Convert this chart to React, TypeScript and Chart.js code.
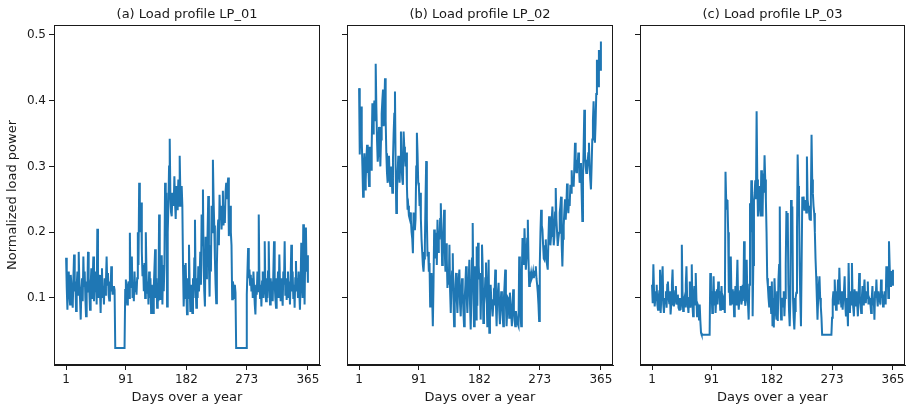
import React, { useEffect, useRef } from "react";
import { Chart, registerables } from "chart.js";

Chart.register(...registerables);

// ---- data (normalized load power per day, days 1..365) ----
const LP_01: number[] = [
  0.161, 0.115, 0.082, 0.128, 0.14, 0.105, 0.09, 0.135, 0.12, 0.1,
  0.085, 0.13, 0.166, 0.11, 0.125, 0.08, 0.118, 0.14, 0.105, 0.17,
  0.12, 0.098, 0.067, 0.112, 0.13, 0.095, 0.163, 0.118, 0.14, 0.1,
  0.072, 0.125, 0.108, 0.17, 0.13, 0.11, 0.082, 0.12, 0.145, 0.1,
  0.125, 0.163, 0.095, 0.13, 0.11, 0.14, 0.09, 0.205, 0.12, 0.1,
  0.135, 0.11, 0.077, 0.128, 0.145, 0.1, 0.118, 0.09, 0.13, 0.105,
  0.125, 0.163, 0.12, 0.138, 0.105, 0.096, 0.125, 0.11, 0.148, 0.12,
  0.105, 0.115, 0.118, 0.112, 0.024, 0.024, 0.024, 0.024, 0.024, 0.024,
  0.024, 0.024, 0.024, 0.024, 0.024, 0.024, 0.024, 0.024, 0.024, 0.112,
  0.128, 0.105, 0.09, 0.118, 0.125, 0.1, 0.199, 0.115, 0.135, 0.163,
  0.1, 0.12, 0.095, 0.14, 0.11, 0.125, 0.105, 0.13, 0.2, 0.15,
  0.275, 0.245, 0.2, 0.245, 0.17, 0.133, 0.15, 0.11, 0.153, 0.1,
  0.2, 0.14, 0.108, 0.125, 0.09, 0.14, 0.1, 0.13, 0.077, 0.12,
  0.095, 0.077, 0.115, 0.145, 0.174, 0.1, 0.13, 0.085, 0.115, 0.095,
  0.227, 0.13, 0.097, 0.12, 0.165, 0.09, 0.15, 0.11, 0.15, 0.275,
  0.22, 0.26, 0.087, 0.2, 0.24, 0.3, 0.342, 0.255, 0.23, 0.224,
  0.26, 0.25, 0.24, 0.285, 0.245, 0.22, 0.27, 0.235, 0.25, 0.28,
  0.24, 0.316, 0.26, 0.24, 0.27, 0.24, 0.15, 0.087, 0.12, 0.1,
  0.153, 0.11, 0.075, 0.13, 0.1, 0.181, 0.12, 0.08, 0.11, 0.12,
  0.077, 0.13, 0.1, 0.16, 0.219, 0.12, 0.085, 0.13, 0.1, 0.148,
  0.11, 0.133, 0.17, 0.12, 0.227, 0.18, 0.265, 0.15, 0.11, 0.087,
  0.193, 0.13, 0.16, 0.2, 0.255, 0.15, 0.102, 0.18, 0.14, 0.24,
  0.2, 0.31, 0.25, 0.21, 0.16, 0.12, 0.092, 0.15, 0.2, 0.219,
  0.18, 0.257, 0.22, 0.24, 0.204, 0.23, 0.263, 0.21, 0.24, 0.214,
  0.26, 0.275, 0.25, 0.27, 0.283, 0.194, 0.23, 0.24, 0.2, 0.18,
  0.098, 0.125, 0.118, 0.1, 0.12, 0.108, 0.024, 0.024, 0.024, 0.024,
  0.024, 0.024, 0.024, 0.024, 0.024, 0.024, 0.024, 0.024, 0.024, 0.024,
  0.024, 0.024, 0.105, 0.14, 0.176, 0.13, 0.143, 0.12, 0.135, 0.11,
  0.13, 0.1, 0.14, 0.115, 0.09, 0.075, 0.12, 0.105, 0.14, 0.11,
  0.227, 0.13, 0.1, 0.12, 0.087, 0.125, 0.14, 0.1, 0.13, 0.186,
  0.11, 0.095, 0.13, 0.1, 0.14, 0.186, 0.12, 0.09, 0.13, 0.105,
  0.125, 0.095, 0.14, 0.186, 0.12, 0.1, 0.085, 0.13, 0.11, 0.14,
  0.1, 0.166, 0.12, 0.095, 0.13, 0.11, 0.088, 0.14, 0.12, 0.186,
  0.105, 0.13, 0.097, 0.12, 0.14, 0.1, 0.125, 0.09, 0.13, 0.181,
  0.11, 0.14, 0.1, 0.12, 0.085, 0.13, 0.156, 0.11, 0.13, 0.1,
  0.14, 0.11, 0.082, 0.12, 0.184, 0.13, 0.1, 0.212, 0.15, 0.09,
  0.17, 0.207, 0.14, 0.165, 0.123,
];

const LP_02: number[] = [
  0.419, 0.318, 0.36, 0.391, 0.34, 0.3, 0.254, 0.29, 0.32, 0.265,
  0.28, 0.31, 0.333, 0.29, 0.3, 0.27, 0.33, 0.31, 0.295, 0.33,
  0.396, 0.35, 0.381, 0.4, 0.37, 0.456, 0.39, 0.34, 0.307, 0.32,
  0.36, 0.346, 0.3, 0.341, 0.38, 0.4, 0.417, 0.361, 0.39, 0.434,
  0.37, 0.32, 0.29, 0.275, 0.3, 0.316, 0.28, 0.27, 0.3, 0.285,
  0.26, 0.311, 0.35, 0.38, 0.414, 0.3, 0.229, 0.26, 0.29, 0.316,
  0.3, 0.275, 0.31, 0.353, 0.3, 0.28, 0.272, 0.353, 0.33, 0.316,
  0.3, 0.321, 0.27, 0.234, 0.24, 0.225, 0.221, 0.23, 0.218, 0.2,
  0.19, 0.168, 0.23, 0.21, 0.203, 0.22, 0.3, 0.351, 0.32, 0.275,
  0.27, 0.24, 0.26, 0.22, 0.189, 0.17, 0.15, 0.14, 0.16, 0.178,
  0.25, 0.308, 0.22, 0.163, 0.17, 0.14, 0.153, 0.087, 0.12, 0.138,
  0.1, 0.057, 0.12, 0.204, 0.17, 0.16, 0.199, 0.15, 0.219, 0.17,
  0.2, 0.189, 0.22, 0.244, 0.2, 0.15, 0.176, 0.2, 0.234, 0.17,
  0.14, 0.183, 0.16, 0.115, 0.14, 0.12, 0.181, 0.11, 0.077, 0.12,
  0.14, 0.168, 0.1, 0.057, 0.09, 0.12, 0.138, 0.1, 0.077, 0.11,
  0.13, 0.143, 0.09, 0.072, 0.11, 0.13, 0.108, 0.08, 0.057, 0.1,
  0.12, 0.148, 0.1, 0.077, 0.11, 0.13, 0.158, 0.09, 0.052, 0.1,
  0.16, 0.214, 0.12, 0.057, 0.148, 0.1, 0.067, 0.178, 0.088, 0.184,
  0.15, 0.128, 0.138, 0.067, 0.12, 0.181, 0.148, 0.062, 0.09, 0.103,
  0.13, 0.154, 0.1, 0.057, 0.11, 0.158, 0.047, 0.08, 0.12, 0.098,
  0.085, 0.072, 0.09, 0.11, 0.108, 0.143, 0.09, 0.057, 0.1, 0.11,
  0.123, 0.08, 0.06, 0.09, 0.11, 0.098, 0.075, 0.057, 0.1, 0.12,
  0.143, 0.09, 0.057, 0.08, 0.1, 0.098, 0.07, 0.108, 0.09, 0.075,
  0.057, 0.09, 0.113, 0.08, 0.065, 0.057, 0.08, 0.072, 0.065, 0.06,
  0.057, 0.163, 0.1, 0.075, 0.057, 0.14, 0.191, 0.17, 0.15, 0.206,
  0.17, 0.143, 0.16, 0.19, 0.219, 0.16, 0.118, 0.14, 0.13, 0.138,
  0.13, 0.133, 0.14, 0.13, 0.136, 0.14, 0.148, 0.13, 0.12, 0.108,
  0.09, 0.065, 0.15, 0.2, 0.234, 0.21, 0.204, 0.18, 0.16, 0.158,
  0.17, 0.189, 0.16, 0.15, 0.143, 0.19, 0.224, 0.2, 0.18, 0.194,
  0.22, 0.239, 0.21, 0.18, 0.194, 0.23, 0.267, 0.22, 0.2, 0.179,
  0.19, 0.199, 0.23, 0.24, 0.254, 0.18, 0.148, 0.19, 0.21, 0.232,
  0.25, 0.219, 0.24, 0.274, 0.25, 0.229, 0.25, 0.24, 0.272, 0.26,
  0.294, 0.27, 0.28, 0.269, 0.3, 0.336, 0.3, 0.291, 0.31, 0.3,
  0.321, 0.3, 0.275, 0.29, 0.305, 0.26, 0.217, 0.28, 0.33, 0.386,
  0.32, 0.3, 0.29, 0.31, 0.303, 0.32, 0.336, 0.3, 0.28, 0.265,
  0.3, 0.341, 0.37, 0.399, 0.36, 0.336, 0.366, 0.41, 0.462, 0.44,
  0.422, 0.477, 0.45, 0.447, 0.49,
];

const LP_03: number[] = [
  0.12, 0.092, 0.151, 0.11, 0.087, 0.1, 0.097, 0.12, 0.09, 0.082,
  0.1, 0.11, 0.143, 0.077, 0.1, 0.13, 0.148, 0.09, 0.077, 0.1,
  0.092, 0.11, 0.085, 0.12, 0.125, 0.1, 0.092, 0.11, 0.075, 0.09,
  0.12, 0.143, 0.1, 0.087, 0.095, 0.11, 0.118, 0.09, 0.097, 0.105,
  0.085, 0.082, 0.1, 0.082, 0.09, 0.181, 0.11, 0.08, 0.095, 0.1,
  0.087, 0.12, 0.148, 0.1, 0.09, 0.077, 0.1, 0.125, 0.085, 0.11,
  0.151, 0.09, 0.072, 0.1, 0.118, 0.09, 0.138, 0.1, 0.072, 0.09,
  0.087, 0.067, 0.09, 0.065, 0.047, 0.044, 0.044, 0.044, 0.044, 0.044,
  0.044, 0.044, 0.044, 0.044, 0.044, 0.044, 0.044, 0.044, 0.138, 0.1,
  0.11, 0.077, 0.1, 0.133, 0.09, 0.11, 0.077, 0.1, 0.113, 0.09,
  0.125, 0.1, 0.11, 0.082, 0.1, 0.118, 0.09, 0.082, 0.1, 0.097,
  0.077, 0.292, 0.25, 0.234, 0.249, 0.2, 0.108, 0.12, 0.09, 0.163,
  0.1, 0.113, 0.09, 0.11, 0.072, 0.1, 0.118, 0.09, 0.12, 0.158,
  0.1, 0.082, 0.1, 0.11, 0.118, 0.09, 0.097, 0.12, 0.1, 0.186,
  0.1, 0.088, 0.11, 0.158, 0.1, 0.09, 0.067, 0.12, 0.244, 0.2,
  0.279, 0.25, 0.072, 0.15, 0.249, 0.26, 0.279, 0.25, 0.384, 0.28,
  0.224, 0.25, 0.27, 0.24, 0.224, 0.294, 0.25, 0.224, 0.289, 0.26,
  0.317, 0.28, 0.249, 0.2, 0.13, 0.118, 0.1, 0.087, 0.118, 0.1,
  0.077, 0.125, 0.057, 0.1, 0.055, 0.13, 0.1, 0.077, 0.067, 0.11,
  0.065, 0.128, 0.15, 0.239, 0.1, 0.067, 0.09, 0.1, 0.087, 0.11,
  0.072, 0.1, 0.15, 0.232, 0.2, 0.229, 0.12, 0.08, 0.057, 0.1,
  0.249, 0.2, 0.239, 0.1, 0.07, 0.052, 0.08, 0.1, 0.108, 0.2,
  0.318, 0.27, 0.249, 0.15, 0.1, 0.057, 0.15, 0.254, 0.24, 0.254,
  0.234, 0.24, 0.249, 0.23, 0.315, 0.25, 0.24, 0.234, 0.22, 0.219,
  0.25, 0.348, 0.28, 0.259, 0.24, 0.229, 0.2, 0.16, 0.133, 0.1,
  0.067, 0.1, 0.12, 0.133, 0.1, 0.087, 0.07, 0.044, 0.044, 0.044,
  0.044, 0.044, 0.044, 0.044, 0.044, 0.044, 0.044, 0.044, 0.044, 0.044,
  0.044, 0.044, 0.07, 0.097, 0.11, 0.09, 0.128, 0.1, 0.082, 0.11,
  0.1, 0.128, 0.09, 0.146, 0.11, 0.1, 0.087, 0.11, 0.082, 0.1,
  0.11, 0.133, 0.09, 0.072, 0.1, 0.085, 0.057, 0.153, 0.1, 0.077,
  0.11, 0.09, 0.153, 0.1, 0.085, 0.072, 0.113, 0.1, 0.087, 0.11,
  0.09, 0.072, 0.1, 0.138, 0.1, 0.09, 0.077, 0.1, 0.118, 0.09,
  0.11, 0.128, 0.1, 0.092, 0.11, 0.1, 0.125, 0.09, 0.1, 0.097,
  0.09, 0.077, 0.1, 0.118, 0.09, 0.1, 0.067, 0.11, 0.1, 0.128,
  0.1, 0.087, 0.11, 0.1, 0.097, 0.09, 0.128, 0.1, 0.11, 0.087,
  0.1, 0.097, 0.11, 0.09, 0.148, 0.12, 0.138, 0.1, 0.186, 0.15,
  0.118, 0.13, 0.141, 0.12, 0.143,
];

const X_TICKS = [1, 91, 182, 273, 365];
const Y_TICKS = [0.1, 0.2, 0.3, 0.4, 0.5];
const TITLES = ["(a) Load profile LP_01", "(b) Load profile LP_02", "(c) Load profile LP_03"];
const X_TITLE = "Days over a year";
const Y_TITLE = "Normalized load power";

const FONT = "DejaVu Sans";
const INK = "#1a1a1a";
const LINE = "#1f77b4";

const framePlugin = {
  id: "frame",
  afterDraw(chart: any) {
    const { ctx, chartArea } = chart;
    const title = chart.options.plugins.panelTitle?.text;
    ctx.save();
    ctx.strokeStyle = INK;
    ctx.lineWidth = 1;
    const l = Math.round(chartArea.left) + 0.5;
    const r = Math.round(chartArea.right) - 0.5;
    const t = Math.round(chartArea.top) + 0.5;
    const b = Math.round(chartArea.bottom) - 0.5;
    ctx.strokeRect(l, t, r - l, b - t);
    if (title) {
      ctx.fillStyle = INK;
      ctx.font = `13px "${FONT}"`;
      ctx.textAlign = "center";
      ctx.textBaseline = "middle";
      ctx.fillText(title, (chartArea.left + chartArea.right) / 2, 15);
    }
    ctx.restore();
  },
};

type PanelProps = {
  values: number[];
  title: string;
  left: number;
  width: number;
  yAxisWidth: number;
  rightPad: number;
  showY: boolean;
};

function Panel({ values, title, left, width, yAxisWidth, rightPad, showY }: PanelProps) {
  const ref = useRef<HTMLCanvasElement>(null);
  useEffect(() => {
    if (!ref.current) return;
    const tickFont = { family: FONT, size: 12 };
    const titleFont = { family: FONT, size: 13 };
    const chart = new Chart(ref.current, {
      type: "line",
      data: {
        datasets: [
          {
            data: values.map((v, i) => ({ x: i + 1, y: v })),
            borderColor: LINE,
            borderWidth: 2,
            pointRadius: 0,
            tension: 0,
            fill: false,
          },
        ],
      },
      options: {
        animation: false,
        responsive: false,
        maintainAspectRatio: false,
        events: [],
        layout: { autoPadding: false, padding: { top: 25, right: rightPad, left: 0, bottom: 0 } },
        plugins: {
          legend: { display: false },
          tooltip: { enabled: false },
          title: { display: false },
          panelTitle: { text: title },
        } as any,
        scales: {
          x: {
            type: "linear",
            min: -17.2,
            max: 383.2,
            afterBuildTicks: (s: any) => {
              s.ticks = X_TICKS.map((v) => ({ value: v }));
            },
            afterFit: (s: any) => {
              s.height = 45;
            },
            ticks: {
              autoSkip: false,
              maxRotation: 0,
              font: tickFont,
              color: INK,
              padding: 3,
              callback: (v: any) => String(v),
            },
            grid: { display: true, drawOnChartArea: false, drawTicks: true, tickLength: 5, color: INK, lineWidth: 1 },
            border: { display: true, color: INK, width: 1 },
            title: { display: true, text: X_TITLE, font: titleFont, color: INK, padding: { top: 0, bottom: 5 } },
          },
          y: {
            type: "linear",
            min: -0.002,
            max: 0.515,
            afterBuildTicks: (s: any) => {
              s.ticks = Y_TICKS.map((v) => ({ value: v }));
            },
            afterFit: (s: any) => {
              s.width = yAxisWidth;
            },
            ticks: {
              display: showY,
              font: tickFont,
              color: INK,
              padding: 3,
              callback: (v: any) => Number(v).toFixed(1),
            },
            grid: { display: true, drawOnChartArea: false, drawTicks: true, tickLength: 5, color: INK, lineWidth: 1 },
            border: { display: true, color: INK, width: 1 },
            title: { display: showY, text: Y_TITLE, font: titleFont, color: INK, padding: { top: 5, bottom: 0 } },
          },
        },
      } as any,
      plugins: [framePlugin],
    });
    return () => chart.destroy();
  }, []);
  return (
    <canvas
      ref={ref}
      width={width}
      height={410}
      style={{ position: "absolute", left, top: 0, width, height: 410 }}
    />
  );
}

export default function App() {
  return (
    <div style={{ position: "fixed", left: 0, top: 0, width: 911, height: 410, background: "#fff", overflow: "hidden" }}>
      <Panel values={LP_01} title={TITLES[0]} left={0} width={330} yAxisWidth={54} rightPad={10} showY={true} />
      <Panel values={LP_02} title={TITLES[1]} left={330} width={290} yAxisWidth={17} rightPad={7} showY={false} />
      <Panel values={LP_03} title={TITLES[2]} left={620} width={291} yAxisWidth={20} rightPad={6} showY={false} />
    </div>
  );
}
